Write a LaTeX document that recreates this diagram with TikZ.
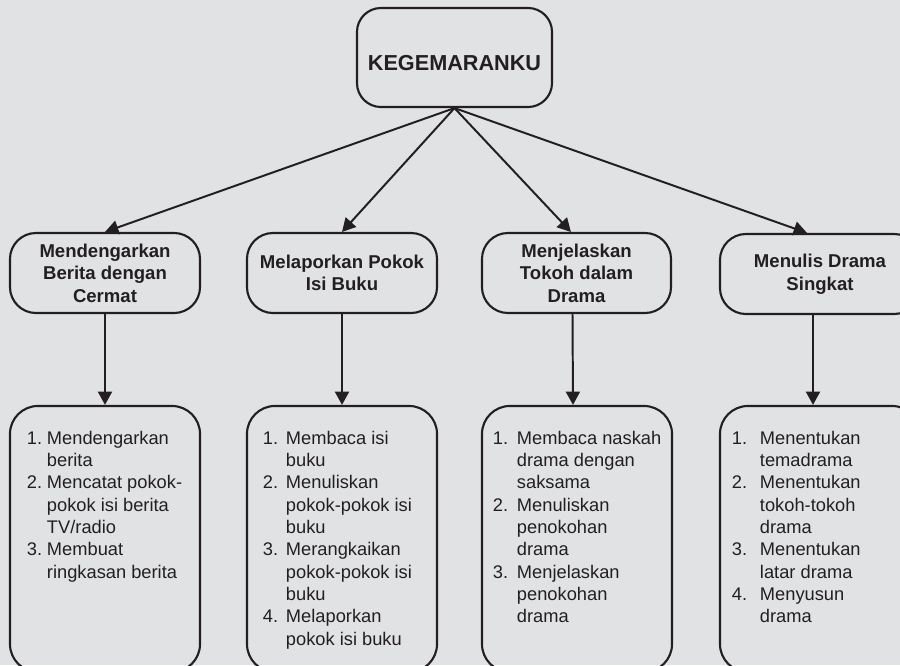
\documentclass[tikz,border=0pt]{standalone}
\usepackage{fontspec}
\setmainfont{Liberation Sans}
\usetikzlibrary{arrows.meta}
\definecolor{bg}{HTML}{E1E2E4}
\definecolor{ink}{HTML}{231F20}

\begin{document}
\begin{tikzpicture}[x=0.025cm, y=-0.025cm, color=ink, line width=1.5pt,
  root/.style={draw, rounded corners=0.6cm, minimum width=4.875cm, minimum height=2.475cm,
    text height=0.64cm, text depth=0pt, font=\bfseries\fontsize{15.4}{18}\selectfont},
  head/.style={draw, rounded corners=0.65cm, minimum height=2cm, align=center, inner sep=2pt,
    font=\bfseries\fontsize{13.2}{16}\selectfont},
  lbox/.style={draw, rounded corners=0.7cm, minimum height=6.65cm},
  ltext/.style={anchor=north west, inner sep=0pt, font=\fontsize{13}{15.9}\selectfont},
  arr/.style={line width=1.4pt, -{Triangle[length=9.5pt,width=10pt]}}]
\newcommand{\lst}[2]{% indent, rows
  \begin{tabular}{@{}p{#1}@{}l@{}}#2\end{tabular}}
\path[use as bounding box, fill=bg] (0,0) rectangle (900,665);
\clip (0,0) rectangle (900,665);
% root
\node[root] (top) at (454.5,57.5) {KEGEMARANKU};
% second row
\node[head, minimum width=4.75cm] (h1) at (105,273) {Mendengarkan\\Berita dengan\\Cermat};
\node[head, minimum width=4.75cm] (h2) at (342,273) {Melaporkan Pokok\\Isi Buku};
\node[head, minimum width=4.725cm] (h3) at (576.5,273) {Menjelaskan\\Tokoh dalam\\Drama};
\node[head, minimum width=5cm] (h4) at (820,274) {Menulis Drama\\Singkat};
% lists
\node[lbox, minimum width=4.75cm] (b1) at (105,539) {};
\node[lbox, minimum width=4.75cm] (b2) at (342,539) {};
\node[lbox, minimum width=4.75cm] (b3) at (577,539) {};
\node[lbox, minimum width=5cm] (b4) at (820,539) {};
\node[ltext] (t1) at ([shift={(17,22.4)}]b1.north west) {\lst{0.5cm}{%
  1. & Mendengarkan\\ & berita\\ 2. & Mencatat pokok-\\ & pokok isi berita\\ & TV/radio\\
  3. & Membuat\\ & ringkasan berita}};
\node[ltext] (t2) at ([shift={(16,22.4)}]b2.north west) {\lst{0.575cm}{%
  1. & Membaca isi\\ & buku\\ 2. & Menuliskan\\ & pokok-pokok isi\\ & buku\\
  3. & Merangkaikan\\ & pokok-pokok isi\\ & buku\\ 4. & Melaporkan\\ & pokok isi buku}};
\node[ltext] (t3) at ([shift={(11,22.4)}]b3.north west) {\lst{0.6cm}{%
  1. & Membaca naskah\\ & drama dengan\\ & saksama\\ 2. & Menuliskan\\ & penokohan\\ & drama\\
  3. & Menjelaskan\\ & penokohan\\ & drama}};
\node[ltext] (t4) at ([shift={(12,22.4)}]b4.north west) {\lst{0.7cm}{%
  1. & Menentukan\\ & temadrama\\ 2. & Menentukan\\ & tokoh-tokoh\\ & drama\\
  3. & Menentukan\\ & latar drama\\ 4. & Menyusun\\ & drama}};
% connectors
\foreach \n/\s in {1/0, 2/0, 3/-0.14, 4/-0.325}
  \draw[arr] (top.south) -- ([xshift=\s cm]h\n.north);
\foreach \n/\s in {1/0, 2/0, 3/-0.1, 4/-0.175}
  \draw[arr] ([xshift=\s cm]h\n.south) -- ([xshift=\s cm]b\n.north);
\end{tikzpicture}
\end{document}
